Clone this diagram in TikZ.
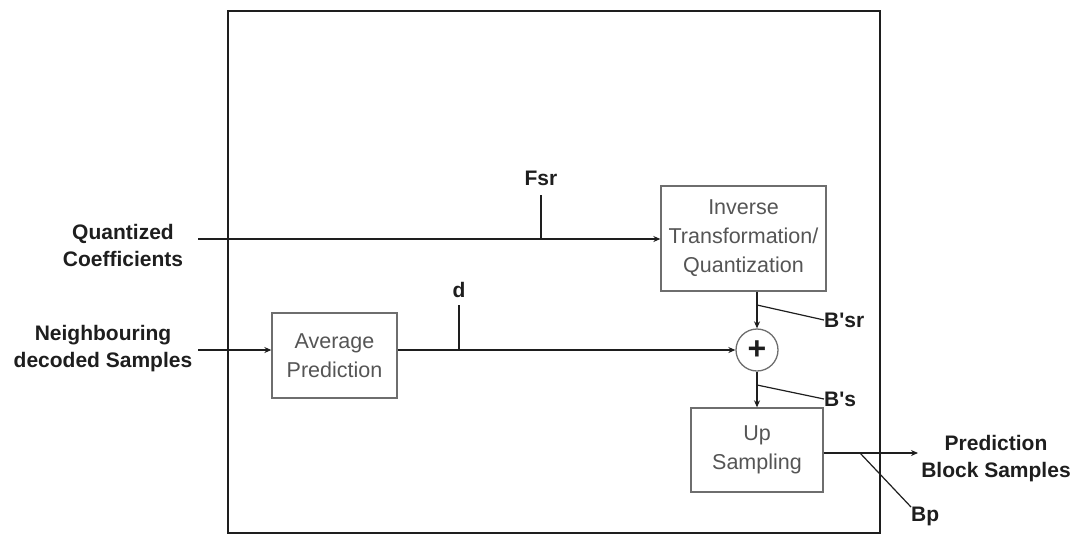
\documentclass[tikz,border=0pt]{standalone}
\usepackage{fontspec}
\setmainfont{Liberation Sans}[Ligatures=TeXOff]
\usetikzlibrary{arrows.meta}
\definecolor{ink}{HTML}{1E1E1E}
\definecolor{boxgray}{HTML}{6E6E6E}
\definecolor{textgray}{HTML}{555555}
\begin{document}
\begin{tikzpicture}[x=1pt,y=-1pt,
  line/.style={draw=ink,line width=1.8pt},
  arr/.style={line,-{Stealth[length=7pt,width=6pt]}},
  leader/.style={draw=ink,line width=1.2pt},
  blockbox/.style={draw=boxgray,line width=1.3pt,fill=white,align=center,
    text=textgray,font=\fontsize{21.5}{29}\selectfont,inner sep=0pt},
  lbl/.style={text=ink,font=\bfseries\fontsize{21}{27}\selectfont,align=center,inner sep=0pt},
  sumnode/.style={circle,draw=boxgray,line width=1.3pt,minimum size=42pt,inner sep=0pt,
    font=\bfseries\fontsize{32}{32}\selectfont,text=ink}]
\useasboundingbox (0,0) rectangle (1076,536);
% enclosing frame
\draw[draw=ink,line width=1.8pt] (228,11) rectangle (880,533);

% processing blocks
\node[blockbox,minimum width=165pt,minimum height=105pt] (inv) at (743.5,238.5)
  {Inverse\\Transformation/\\Quantization};
\node[blockbox,minimum width=125pt,minimum height=85pt] (avg) at (334.5,355.5)
  {Average\\Prediction};
\node[sumnode] (sum) at (757,350) {+};
\node[blockbox,minimum width=132pt,minimum height=84pt] (up) at (757,450)
  {Up\\Sampling};

% external labels
\node[lbl] (qc) at (123,245) {Quantized\\Coefficients};
\node[lbl] (nds) at (103,349) {Neighbouring\\decoded Samples};
\node[lbl] (pbs) at (996,459) {Prediction\\Block Samples};

% signal endpoints
\coordinate (qin) at (198,239);
\coordinate (nin) at (198,350);
\coordinate (pout) at (918,453);

% main signal flow
\draw[arr] (qin) -- (inv.west |- qin);
\draw[arr] (nin) -- (nin -| avg.west);
\draw[arr] (avg.east |- nin) -- (sum.west);
\draw[arr] (sum |- inv.south) -- (sum.north);
\draw[arr] (sum.south) -- (up.north);
\draw[arr] (up.east |- pout) -- (pout);

% signal name markers
\coordinate (fsrtop) at (541,195);
\draw[line,line width=1.4pt] (fsrtop) -- (fsrtop |- qin);
\node[lbl] (fsr) at (541,178) {Fsr};

\coordinate (dtop) at (459,305);
\draw[line,line width=1.4pt] (dtop) -- (dtop |- nin);
\node[lbl] (dl) at (459,290) {d};

\coordinate (bsrfoot) at (757,305);
\node[lbl,anchor=west] (bsr) at (824,320) {B'sr};
\draw[leader] (bsrfoot) -- (bsr.west);

\coordinate (bsfoot) at (757,385);
\node[lbl,anchor=west] (bs) at (824,399) {B's};
\draw[leader] (bsfoot) -- (bs.west);

\coordinate (bpfoot) at (860,453);
\node[lbl,anchor=north west] (bp) at (911,507) {Bp};
\draw[leader] (bpfoot) -- (bp.north west);
\end{tikzpicture}
\end{document}
